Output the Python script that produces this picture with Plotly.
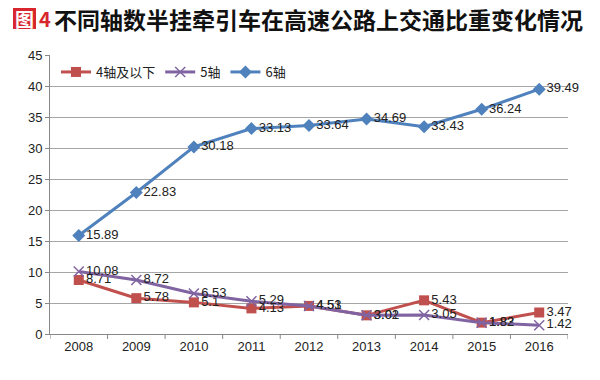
import plotly.graph_objects as go

years = ["2008", "2009", "2010", "2011", "2012", "2013", "2014", "2015", "2016"]
axle4_below = [8.71, 5.78, 5.1, 4.13, 4.53, 3.01, 5.43, 1.83, 3.47]
axle5 = [10.08, 8.72, 6.53, 5.29, 4.51, 3.02, 3.05, 1.82, 1.42]
axle6 = [15.89, 22.83, 30.18, 33.13, 33.64, 34.69, 33.43, 36.24, 39.49]
names = ["4轴及以下", "5轴", "6轴"]
y_ticks = [0, 5, 10, 15, 20, 25, 30, 35, 40, 45]

L, R, T, B = 50, 32, 55, 46
W, H = 600, 380
PW, PH = W - L - R, H - T - B


def px(x):
    return (x - L) / PW


def py(y):
    return (H - B - y) / PH


fig = go.Figure()
series = [
    (names[0], axle4_below, "#C0504D", "square", 10),
    (names[1], axle5, "#8064A2", "x-thin", 10),
    (names[2], axle6, "#4F81BD", "diamond", 10),
]
for name, vals, color, sym, size in series:
    mk = dict(symbol=sym, size=size, color=color)
    if sym == "x-thin":
        mk["line"] = dict(color=color, width=1.5)
    fig.add_trace(go.Scatter(
        x=years, y=vals, name=name, mode="lines+markers+text",
        line=dict(color=color, width=3),
        marker=mk,
        text=[f"{v:g}" for v in vals],
        textposition="middle right",
        textfont=dict(family="Liberation Sans, Arial, sans-serif", size=13, color="#222"),
        cliponaxis=False,
    ))

fig.update_layout(
    width=W, height=H,
    margin=dict(l=L, r=R, t=T, b=B, autoexpand=False),
    paper_bgcolor="white", plot_bgcolor="white",
    font=dict(family="Liberation Sans, Arial, sans-serif", size=12, color="#222"),
    showlegend=True,
    legend=dict(orientation="h", x=px(56), y=py(72), xanchor="left", yanchor="middle",
                bgcolor="rgba(0,0,0,0)", font=dict(size=13, family="Noto Sans CJK SC, sans-serif", color="#222"),
                itemwidth=30),
    xaxis=dict(type="category", range=[-0.5, 8.5], showgrid=False, automargin=False,
               showline=True, linecolor="#888", linewidth=1,
               ticks="", tickfont=dict(size=13, color="#222"), fixedrange=True),
    yaxis=dict(range=[0, 45], tickvals=y_ticks, showgrid=True, gridcolor="#a6a6a6", gridwidth=1,
               automargin=False,
               showline=True, linecolor="#888", linewidth=1, ticks="outside", ticklen=4,
               tickcolor="#888", zeroline=False, tickfont=dict(size=13, color="#222")),
)

# tick marks between categories on x axis
for i in range(10):
    fig.add_shape(type="line", xref="x", yref="paper", x0=i - 0.5, x1=i - 0.5, y0=0, y1=-5 / PH,
                  line=dict(color="#888", width=1))

# Title
fig.add_shape(type="rect", xref="paper", yref="paper", x0=px(13), x1=px(36), y0=py(29), y1=py(8),
              fillcolor="#D7262D", line=dict(width=0))
fig.add_annotation(xref="paper", yref="paper", x=px(24.5), y=py(18.5), xanchor="center", yanchor="middle",
                   text="<b>图</b>", showarrow=False,
                   font=dict(family="Noto Sans CJK SC", size=19, color="white"))
fig.add_annotation(xref="paper", yref="paper", x=px(37), y=py(18.5), xanchor="left", yanchor="middle",
                   text="<b>4</b>", showarrow=False,
                   font=dict(family="Noto Sans CJK SC", size=20, color="#D7262D"))
fig.add_annotation(xref="paper", yref="paper", x=px(52), y=py(18.5), xanchor="left", yanchor="middle",
                   text="<b>不同轴数半挂牵引车在高速公路上交通比重变化情况</b>", showarrow=False,
                   font=dict(family="Noto Sans CJK SC", size=23, color="#111"))

fig.write_html("out.html", config={"displayModeBar": False},
               post_script="document.body.style.margin='0';document.body.style.padding='0';")
